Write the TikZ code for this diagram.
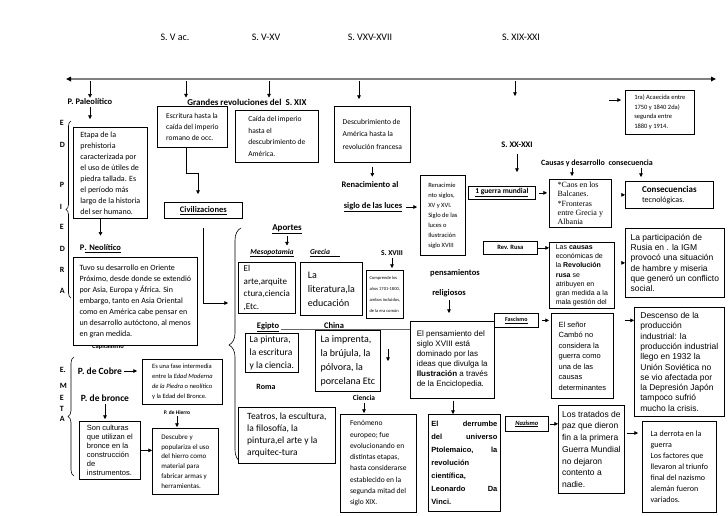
\documentclass[tikz,border=0pt]{standalone}
\usepackage{fontspec}
\setmainfont{Carlito}
\newfontfamily\arialf{Liberation Sans}
\newfontfamily\timesf{Liberation Serif}
\usetikzlibrary{arrows.meta,decorations.pathreplacing}
\newcommand{\fsz}[2]{\fontsize{#1}{#2}\selectfont}
\tikzset{
  every picture/.style={line width=0.6pt},
  caja/.style={draw=black, fill=white, line width=0.7pt, anchor=north west,
               align=left, inner xsep=2.5pt, inner ysep=2pt},
  etq/.style={inner sep=1pt, font=\bfseries\fsz{8.5}{10}},
  siglo/.style={inner sep=1pt, font=\fsz{10}{12}},
  letra/.style={inner sep=0pt, anchor=west, font=\bfseries\fsz{8}{9}},
  flecha/.style={-{Triangle[length=3.6pt,width=3.6pt]}, line width=0.6pt},
  eje/.style={{Triangle[length=5pt,width=4.6pt,color=black]}-{Triangle[length=5pt,width=4.6pt,color=black]},
              draw=black!50, line width=1.4pt},
  llave/.style={decorate, decoration={brace, amplitude=#1}, line width=0.6pt},
}

\begin{document}
\begin{tikzpicture}[x=1pt,y=-1pt]
\useasboundingbox[fill=white] (0,0) rectangle (728,515);

% ---------------------------------------------------------------- linea de tiempo
\node[siglo] (s1) at (175,37) {S. V ac.};
\node[siglo] (s2) at (266,37) {S. V-XV};
\node[siglo] (s3) at (370,37) {S. VXV-XVII};
\node[siglo] (s4) at (521,37) {S. XIX-XXI};

\coordinate (ejeW) at (66,79);
\coordinate (ejeE) at (716,79);
\draw[eje] (ejeW) -- (ejeE);

\coordinate (t1) at (90,81);
\coordinate (t2) at (186,81);
\coordinate (t3) at (269,81);
\coordinate (t4) at (359,81);
\coordinate (t5) at (515,81);
\coordinate (t5b) at (515,96);

% ---------------------------------------------------------------- edad de piedra
\foreach \l/\y [count=\i] in {E/123,D/145,P/185,I/207,E/227,D/249,R/270,A/291}
  \node[letra] (ed\i) at (59.5,\y) {\l};
\foreach \l/\y [count=\i] in {E./370,M/386,E/398,T/409,A/419}
  \node[letra] (me\i) at (59.5,\y) {\l};
\draw[llave=5pt] (71,298) -- (71,121);
\draw[llave=6pt] (74,476) -- (74,357);
\draw[llave=12pt] (241,462) -- (241,228);

\node[etq] (paleo) at (90,102) {P. Paleolítico};
\node[caja, minimum width=74pt, minimum height=91pt, font=\fsz{8}{11}] (etapa) at (73,127)
  {Etapa de la\\prehistoria\\caracterizada por\\el uso de útiles de\\piedra tallada. Es\\el período más\\largo de la historia\\del ser humano.};
\node[etq] (neoL) at (100.5,249) {P\underline{. Neolítico}};
\node[etq, font=\bfseries\fsz{6.5}{7}] (capit) at (108,347) {Capitalismo};
\node[caja, minimum width=124pt, minimum height=88pt, font=\fsz{8}{11}] (neo) at (73,257)
  {Tuvo su desarrollo en Oriente\\Próximo, desde donde se extendió\\por Asia, Europa y África. Sin\\embargo, tanto en Asia Oriental\\como en América cabe pensar en\\un desarrollo autóctono, al menos\\en gran medida.};

% ---------------------------------------------------------------- edad de los metales
\node[etq, font=\bfseries\fsz{9.5}{11}] (cobre) at (100,371) {P. de Cobre};
\node[caja, minimum width=80pt, minimum height=45pt, font=\fsz{6.5}{10}] (fase) at (142,359)
  {Es una fase intermedia\\entre la \textit{Edad Moderna}\\\textit{de la Piedra} o neolítico\\y la Edad del Bronce.};
\node[etq, font=\bfseries\fsz{9.5}{11}] (bronce) at (105,398) {P. de bronce};
\node[caja, minimum width=61pt, minimum height=58pt, font=\arialf\fsz{7.5}{9}] (cult) at (79,421)
  {Son culturas\\que utilizan el\\bronce en la\\construcción\\de\\instrumentos.};
\node[etq, font=\bfseries\fsz{5.5}{6}] (hierroL) at (177,413) {P. de Hierro};
\node[caja, minimum width=66pt, minimum height=66pt, font=\fsz{7}{9.7}] (hierro) at (152,428)
  {Descubre y\\populariza el uso\\del hierro como\\material para\\fabricar armas y\\herramientas.};

% ---------------------------------------------------------------- revoluciones y civilizaciones
\node[etq, font=\bfseries\fsz{9}{10}] (grandes) at (247,102) {Grandes revoluciones del\ \ S. XIX};
\node[caja, minimum width=70pt, minimum height=41pt, font=\fsz{7.5}{11}] (escrit) at (157,106)
  {Escritura hasta la\\caída del imperio\\romano de occ.};
\node[caja, minimum width=78pt, minimum height=16pt, font=\bfseries\fsz{8.5}{10}] (civil) at (164,202)
  {\underline{Civilizaciones}};
\node[caja, minimum width=83pt, minimum height=52pt, font=\fsz{7.5}{11.5}] (caida) at (235,110)
  {Caída del imperio\\hasta el\\descubrimiento de\\América.};
\node[caja, minimum width=76pt, minimum height=56pt, font=\fsz{7.5}{12.5}] (descub) at (334,106)
  {Descubrimiento de\\América\ hasta la\\revolución francesa};
\node[etq] (renacA) at (370,185) {Renacimiento al};
\node[etq] (renacB) at (373,207) {\underline{siglo de las luces}};
\node[caja, minimum width=45pt, minimum height=80pt, font=\fsz{6.5}{10}] (renac) at (420,175)
  {Renacimie\\nto siglos,\\XV y XVI.\\Siglo de las\\luces o\\Ilustración\\siglo XVIII};

\node[etq, font=\bfseries\fsz{9}{10}] (aportes) at (287,229) {\underline{Aportes}};
\node[etq, font=\bfseries\itshape\fsz{7.5}{9}] (meso) at (272,253) {\underline{Mesopotamia}};
\node[etq, font=\bfseries\itshape\fsz{7.5}{9}] (grecia) at (325,253) {\underline{Grecia\hspace{10pt}}};
\node[etq, font=\bfseries\fsz{7.5}{9}] (sxviii) at (392,253) {S. XVIII};
\node[caja, minimum width=57pt, minimum height=51pt, font=\fsz{9}{12.5}] (arte) at (238,262)
  {El\\arte,arquite\\ctura,ciencia\\,Etc.};
\node[caja, minimum width=62pt, minimum height=53pt, font=\fsz{10}{14}] (litera) at (300,262)
  {La\\literatura,la\\educación};
\node[caja, minimum width=37pt, minimum height=48pt, inner xsep=1pt, font=\fsz{4.5}{11}] (compr) at (366,270)
  {Comprende los\\años 1701-1800,\\ambos incluidos,\\de la era común};
\node[etq] (pens) at (455,273) {pensamientos};
\node[etq] (relig) at (449,293) {religiosos};

\node[etq] (egipto) at (268,327) {\underline{Egipto}};
\node[etq] (china) at (334,327) {\underline{China}};
\coordinate (lg1) at (281,329);
\coordinate (lg2) at (410,329);
\draw[black!60] (lg1) -- (lg2);
\node[caja, minimum width=53pt, minimum height=39pt, font=\fsz{9.5}{13}] (pint) at (245,333)
  {La pintura,\\la escritura\\y la ciencia.};
\node[caja, minimum width=65pt, minimum height=61pt, font=\fsz{10}{14}] (impr) at (315,330)
  {La imprenta,\\la brújula, la\\pólvora, la\\porcelana Etc};
\node[etq, font=\bfseries\fsz{8}{9}] (roma) at (266,387) {Roma};
\node[caja, minimum width=84pt, minimum height=77pt, font=\arialf\fsz{8}{10}] (pensbox) at (410,321)
  {El pensamiento del\\siglo XVIII está\\dominado por las\\ideas que divulga la\\\textbf{Ilustración} a través\\de la Enciclopedia.};
\coordinate (fl1) at (388,349);
\coordinate (fl2) at (388,361);

\node[etq, font=\bfseries\fsz{7.5}{9}] (ciencia) at (364,398) {Ciencia};
\node[caja, minimum width=97pt, minimum height=56pt, font=\fsz{9.5}{12}] (teatros) at (238,407)
  {Teatros, la escultura,\\la filosofía, la\\pintura,el arte y la\\arquitec-tura};
\node[caja, minimum width=76pt, minimum height=98pt, font=\fsz{7.5}{11.3}] (fenom) at (340,414)
  {Fenómeno\\europeo; fue\\evolucionando en\\distintas etapas,\\hasta considerarse\\establecido en la\\segunda mitad del\\siglo XIX.};
\node[caja, text width=66pt, minimum height=97pt, inner xsep=3pt, font=\arialf\bfseries\fsz{7.5}{13}] (derrumbe) at (428,414)
  {El\hfill derrumbe\\del\hfill universo\\Ptolemaico,\hfill la\\revolución\\científica,\\Leonardo\hfill Da\\Vinci.};

% ---------------------------------------------------------------- siglos XIX a XXI
\node[caja, minimum width=69pt, minimum height=44pt, font=\fsz{6.5}{9.5}] (prim) at (625,90)
  {1ra) Acaecida entre\\1750 y 1840 2da)\\segunda entre\\1880 y 1914.};
\coordinate (pa) at (609,100);
\node[etq] (sxx) at (517,145) {S. XX-XXI};
\node[etq, font=\bfseries\fsz{8}{9}] (causas) at (597,163) {Causas y desarrollo\ \ consecuencia};
\node[caja, minimum width=67pt, minimum height=13pt, inner ysep=1pt, font=\bfseries\fsz{7.5}{8}] (guerra) at (468,186)
  {\underline{1 guerra mundial}};
\node[caja, minimum width=62pt, minimum height=48pt, font=\timesf\fsz{8}{9.2}] (caos) at (549,179)
  {*Caos en los\\Balcanes.\\*Fronteras\\entre Grecia y\\Albania};
\node[caja, minimum width=88pt, minimum height=27pt, font=\fsz{8}{10}] (consec) at (625,181)
  {{\bfseries\fsz{9}{10}Consecuencias}\\tecnológicas.};
\coordinate (cp) at (572,170);
\coordinate (cq) at (641,170);

\node[caja, minimum width=54pt, minimum height=13pt, inner ysep=1pt, font=\bfseries\fsz{6.5}{7}] (rusa) at (483,241) {Rev. Rusa};
\node[caja, minimum width=65pt, minimum height=66pt, font=\arialf\fsz{7}{9.3}] (lascausas) at (549,242)
  {Las \textbf{causas}\\económicas de\\la \textbf{Revolución}\\\textbf{rusa} se\\atribuyen en\\gran medida a la\\mala gestión del};
\node[caja, minimum width=99pt, minimum height=69pt, font=\arialf\fsz{8.5}{10.3}] (partic) at (625,228)
  {La participación de\\Rusia en . la IGM\\provocó una situación\\de hambre y miseria\\que generó un conflicto\\social.};

\node[caja, minimum width=44pt, minimum height=14pt, inner ysep=1pt, font=\bfseries\fsz{6}{7}] (fascismo) at (494,313) {\underline{Fascismo}};
\node[caja, minimum width=62pt, minimum height=85pt, font=\arialf\fsz{7.5}{10.5}] (senor) at (551,313)
  {El señor\\Cambó no\\considera la\\guerra como\\una de las\\causas\\determinantes};
\node[caja, minimum width=90pt, minimum height=109pt, font=\arialf\fsz{8.5}{10.3}] (descenso) at (634,307)
  {Descenso de la\\producción\\industrial: la\\producción industrial\\llego en 1932 la\\Unión Soviética no\\se vio afectada por\\la Depresión Japón\\tampoco sufrió\\mucho la crisis.};

\node[caja, minimum width=43pt, minimum height=15pt, inner ysep=1pt, font=\bfseries\itshape\fsz{6.5}{7}] (nazismo) at (505,416) {\underline{Nazismo}};
\node[caja, minimum width=66pt, minimum height=88pt, font=\arialf\fsz{8.5}{11.7}] (tratados) at (558,405)
  {Los tratados de\\paz que dieron\\fin a la primera\\Guerra Mundial\\no dejaron\\contento a\\nadie.};
\node[caja, minimum width=74pt, minimum height=91pt, font=\fsz{8}{11}] (derrota) at (642,421)
  {La derrota en la\\guerra\\Los factores que\\llevaron al triunfo\\final del nazismo\\alemán fueron\\variados.};
\coordinate (ytd) at (0,433);
\coordinate (xpd) at (453,0);

% ---------------------------------------------------------------- flechas
\draw[flecha] (t1) -- (t1 |- paleo.north);
\draw[flecha] (t2) -- (t2 |- grandes.north);
\draw[flecha] (t3) -- (t3 |- grandes.north);
\draw[flecha, shorten >=7pt] (t4) -- (t4 |- descub.north);
\draw[flecha] (t5) -- (t5b);

\draw[flecha, shorten <=1pt, shorten >=8pt] (paleo.south) -- (paleo.south |- etapa.north);
\draw[flecha, shorten >=8pt] (neoL.north |- etapa.south) -- (neoL.north);
\draw[flecha, shorten <=1pt, shorten >=5pt] (cobre.east) -- (cobre.east -| fase.west);
\draw[flecha, shorten <=1pt, shorten >=2pt] (bronce.south) -- (bronce.south |- cult.north);
\draw[flecha] (cult.east) -- (cult.east -| hierro.west);
\draw[flecha, shorten >=1pt] (hierroL.south) -- (hierroL.south |- hierro.north);

\coordinate (codoA) at (186,173);
\coordinate (codoB) at (198,173);
\draw[flecha, shorten >=8pt] (escrit.south -| codoA) -- (codoA) -- (codoB) -- (codoB |- civil.north);
\coordinate (llave) at (228,303);
\draw[flecha, shorten <=9pt] (civil.south) |- (llave);

\draw[flecha, shorten <=4pt, shorten >=4pt] (descub.south) -- (descub.south |- renacA.north);
\draw[flecha, shorten <=3pt, shorten >=3pt] (renacB.east) -- (renacB.east -| renac.west);
\draw[flecha, shorten <=1pt, shorten >=2pt] (aportes.south) -- (aportes.south |- meso.north);
\draw[flecha, shorten <=1pt, shorten >=2pt] (sxviii.south) -- (sxviii.south |- compr.north);
\draw[flecha, shorten <=2pt, shorten >=8pt] (relig.south) -- (relig.south |- pensbox.north);
\draw[flecha] (fl1) -- (fl2);
\draw[flecha, shorten <=1pt, shorten >=1pt] (ciencia.south) -- (ciencia.south |- fenom.north);
\draw[flecha, shorten <=2pt] (pensbox.south -| xpd) -- (derrumbe.north -| xpd);

\draw[flecha, shorten >=4pt] (pa) -- (pa -| prim.west);
\draw[flecha, shorten <=5pt, shorten >=14pt] (sxx.south) -- (sxx.south |- guerra.north);
\draw[flecha, shorten >=3pt] (causas.south -| cp) -- (cp |- caos.north);
\draw[flecha, shorten >=4pt] (causas.south -| cq) -- (cq |- consec.north);
\draw[flecha, shorten <=3pt, shorten >=2pt] (guerra.east) -- (guerra.east -| caos.west);
\draw[flecha, shorten <=11pt] (caos.east |- consec.west) -- (consec.west);
\draw[flecha] (rusa.east) -- (rusa.east -| lascausas.west);
\draw[flecha, shorten <=7pt] (lascausas.east |- partic.west) -- (partic.west);
\draw[flecha, shorten <=3pt, shorten >=2pt] (fascismo.east) -- (fascismo.east -| senor.west);
\draw[flecha, shorten <=11pt] (senor.east |- fascismo.east) -- (fascismo.east -| descenso.west);
\draw[flecha, shorten <=1pt] (nazismo.east) -- (nazismo.east -| tratados.west);
\draw[flecha, shorten <=2pt, shorten >=4pt] (tratados.east |- ytd) -- (derrota.west |- ytd);

\end{tikzpicture}
\end{document}
